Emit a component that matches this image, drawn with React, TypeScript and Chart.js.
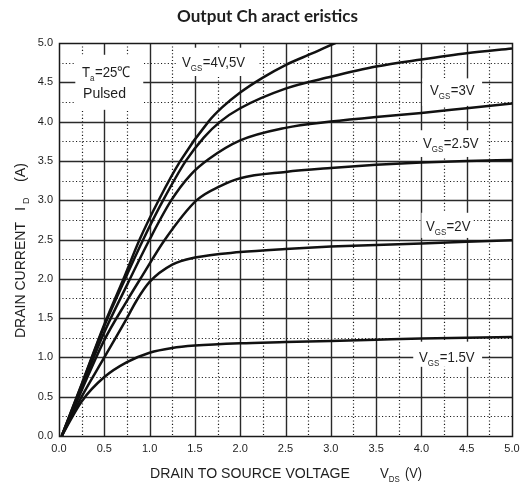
import React, { useEffect, useRef } from "react";
import { Chart, registerables } from "chart.js";

Chart.register(...registerables);

// ---- axis ranges & ticks ----
const X_MIN = 0;
const X_MAX = 5;
const Y_MIN = 0;
const Y_MAX = 5;
const MAJOR_STEP = 0.5;
const MINOR_STEP = 0.25;

// ---- curves: V_DS (V) vs I_D (A) ----
const VDS_5V = [0.03, 0.25, 0.5, 0.73, 0.89, 1.1, 1.34, 1.65, 1.8, 2.0, 2.25, 2.5, 2.8, 3.05, 3.3];
const ID_5V = [0, 0.66, 1.42, 2.05, 2.5, 3.0, 3.5, 4.0, 4.18, 4.37, 4.56, 4.72, 4.87, 5.0, 5.12];

const VDS_4V = [0.03, 0.25, 0.5, 0.75, 0.93, 1.15, 1.4, 1.6, 1.78, 2.0, 2.5, 3.0, 3.5, 4.0, 4.5, 5.0];
const ID_4V = [0, 0.65, 1.4, 2.05, 2.5, 3.0, 3.5, 3.8, 4.0, 4.17, 4.42, 4.57, 4.7, 4.79, 4.87, 4.93];

const VDS_3V = [0.03, 0.25, 0.5, 0.75, 1.0, 1.24, 1.45, 1.65, 2.0, 2.5, 3.0, 3.5, 4.0, 4.5, 5.0];
const ID_3V = [0, 0.62, 1.32, 1.92, 2.5, 3.0, 3.32, 3.52, 3.76, 3.92, 4.0, 4.06, 4.11, 4.17, 4.23];

const VDS_2_5V = [0.03, 0.25, 0.5, 0.75, 0.92, 1.17, 1.52, 1.78, 2.0, 2.5, 3.0, 3.5, 4.0, 4.5, 5.0];
const ID_2_5V = [0, 0.58, 1.22, 1.72, 2.04, 2.5, 3.0, 3.18, 3.28, 3.36, 3.41, 3.45, 3.48, 3.5, 3.51];

const VDS_2V = [0.03, 0.25, 0.5, 0.75, 0.86, 1.0, 1.25, 1.5, 2.0, 2.5, 3.0, 3.5, 4.0, 4.5, 5.0];
const ID_2V = [0, 0.5, 1.0, 1.5, 1.73, 1.96, 2.18, 2.27, 2.34, 2.38, 2.41, 2.43, 2.45, 2.47, 2.49];

const VDS_1_5V = [0.03, 0.25, 0.5, 0.75, 1.0, 1.25, 1.5, 2.0, 2.5, 3.0, 3.5, 4.0, 4.5, 5.0];
const ID_1_5V = [0, 0.44, 0.75, 0.94, 1.06, 1.12, 1.15, 1.18, 1.195, 1.21, 1.225, 1.24, 1.25, 1.26];

const SERIES = [
  { name: "VGS=5V", x: VDS_5V, y: ID_5V },
  { name: "VGS=4V", x: VDS_4V, y: ID_4V },
  { name: "VGS=3V", x: VDS_3V, y: ID_3V },
  { name: "VGS=2.5V", x: VDS_2_5V, y: ID_2_5V },
  { name: "VGS=2V", x: VDS_2V, y: ID_2V },
  { name: "VGS=1.5V", x: VDS_1_5V, y: ID_1_5V },
];

// ---- texts ----
const TITLE = "Output Ch aract eristics";
const X_TITLE = "DRAIN TO SOURCE VOLTAGE";
const Y_TITLE = "DRAIN CURRENT";

// curve labels: [main, sub, rest]
const LABEL_TEXTS = [
  ["V", "GS", "=4V,5V"],
  ["V", "GS", "=3V"],
  ["V", "GS", "=2.5V"],
  ["V", "GS", "=2V"],
  ["V", "GS", "=1.5V"],
];
// label anchors in data units: text-left, baseline, box x0, x1, y0, y1
const LABEL_POS = [
  [1.358, 4.695, 1.3, 2.2, 4.58, 4.94],
  [4.095, 4.338, 4.01, 4.67, 4.2, 4.55],
  [4.018, 3.664, 3.96, 4.71, 3.55, 3.89],
  [4.05, 2.608, 4.0, 4.56, 2.52, 2.84],
  [3.974, 0.941, 3.91, 4.67, 0.88, 1.2],
];
const COND_BOX = [0.18, 0.93, 4.15, 4.85];

const SANS = '"Liberation Sans", Arial, Helvetica, sans-serif';
const INK = "#1e1e1e";

function drawSub(ctx: CanvasRenderingContext2D, x: number, y: number, a: string, sub: string, b: string, size: number, subSize: number, sx: number) {
  ctx.save();
  ctx.translate(x, y);
  ctx.scale(sx, 1);
  ctx.font = `${size}px ${SANS}`;
  ctx.fillText(a, 0, 0);
  let w = ctx.measureText(a).width;
  ctx.font = `${subSize}px ${SANS}`;
  ctx.fillText(sub, w, 4);
  w += ctx.measureText(sub).width + 0.5;
  ctx.font = `${size}px ${SANS}`;
  ctx.fillText(b, w, 0);
  ctx.restore();
}

function fitText(ctx: CanvasRenderingContext2D, text: string, x: number, y: number, width: number) {
  const m = ctx.measureText(text).width;
  ctx.save();
  ctx.translate(x, y);
  ctx.scale(width / m, 1);
  ctx.fillText(text, 0, 0);
  ctx.restore();
}

const decorPlugin = {
  id: "decor",
  beforeDatasetsDraw(chart: any) {
    const { ctx, chartArea: a, scales } = chart;
    const xs = scales.x;
    const ys = scales.y;
    const px = (v: number) => Math.round(xs.getPixelForValue(v)) + 0.5;
    const py = (v: number) => Math.round(ys.getPixelForValue(v)) + 0.5;
    ctx.save();
    // minor dotted grid
    ctx.strokeStyle = "#1a1a1a";
    ctx.lineWidth = 1.2;
    ctx.setLineDash([1.1, 2.3]);
    for (let v = MINOR_STEP; v < X_MAX; v += MAJOR_STEP) {
      ctx.beginPath();
      ctx.moveTo(px(v), a.top);
      ctx.lineTo(px(v), a.bottom);
      ctx.stroke();
    }
    for (let v = MINOR_STEP; v < Y_MAX; v += MAJOR_STEP) {
      ctx.beginPath();
      ctx.moveTo(a.left, py(v));
      ctx.lineTo(a.right, py(v));
      ctx.stroke();
    }
    // major solid grid
    ctx.setLineDash([]);
    ctx.strokeStyle = "#2a2a2a";
    ctx.lineWidth = 1.4;
    for (let v = MAJOR_STEP; v < X_MAX - 0.01; v += MAJOR_STEP) {
      ctx.beginPath();
      ctx.moveTo(px(v), a.top);
      ctx.lineTo(px(v), a.bottom);
      ctx.stroke();
    }
    for (let v = MAJOR_STEP; v < Y_MAX - 0.01; v += MAJOR_STEP) {
      ctx.beginPath();
      ctx.moveTo(a.left, py(v));
      ctx.lineTo(a.right, py(v));
      ctx.stroke();
    }
    // frame
    ctx.strokeStyle = "#1a1a1a";
    ctx.lineWidth = 1.5;
    ctx.strokeRect(px(X_MIN), py(Y_MAX), px(X_MAX) - px(X_MIN), py(Y_MIN) - py(Y_MAX));

    // white label boxes
    ctx.fillStyle = "#fff";
    const box = (x0: number, x1: number, y0: number, y1: number) => {
      const l = xs.getPixelForValue(x0);
      const r = xs.getPixelForValue(x1);
      const t = ys.getPixelForValue(y1);
      const b = ys.getPixelForValue(y0);
      ctx.fillRect(l, t, r - l, b - t);
    };
    box(COND_BOX[0], COND_BOX[1], COND_BOX[2], COND_BOX[3]);
    LABEL_POS.forEach((p) => box(p[2], p[3], p[4], p[5]));

    // labels
    ctx.fillStyle = INK;
    ctx.textBaseline = "alphabetic";
    ctx.textAlign = "left";
    LABEL_TEXTS.forEach((t, i) => {
      const p = LABEL_POS[i];
      drawSub(ctx, xs.getPixelForValue(p[0]), ys.getPixelForValue(p[1]), t[0], t[1], t[2], 15, 9, 0.88);
    });
    drawSub(ctx, xs.getPixelForValue(0.254), ys.getPixelForValue(4.567), "T", "a", "=25℃", 15, 9, 0.88);
    ctx.font = `15px ${SANS}`;
    fitText(ctx, "Pulsed", xs.getPixelForValue(0.265), ys.getPixelForValue(4.3), 43);
    ctx.restore();
  },
  afterDraw(chart: any) {
    const { ctx, chartArea: a } = chart;
    ctx.save();
    ctx.fillStyle = INK;
    ctx.textBaseline = "alphabetic";
    ctx.textAlign = "left";
    // title
    ctx.font = `bold 17px Lato, "Open Sans", "Noto Sans", sans-serif`;
    fitText(ctx, TITLE, a.left + 118, a.top - 21, 181);
    // x axis title
    ctx.font = `15px ${SANS}`;
    fitText(ctx, X_TITLE, a.left + 91, a.bottom + 42, 200);
    drawSub(ctx, a.left + 321, a.bottom + 42, "V", "DS", "", 15, 9, 0.88);
    fitText(ctx, "(V)", a.left + 346, a.bottom + 42, 17);
    // y axis title (rotated)
    ctx.translate(25, a.bottom - 98);
    ctx.rotate(-Math.PI / 2);
    ctx.font = `15px ${SANS}`;
    fitText(ctx, Y_TITLE, 0, 0, 116);
    ctx.fillText("I", 127, 0);
    ctx.font = `9px ${SANS}`;
    ctx.fillText("D", 134, 4);
    ctx.font = `15px ${SANS}`;
    fitText(ctx, "(A)", 156, 0, 19);
    ctx.restore();
  },
};

export default function App() {
  const ref = useRef<HTMLCanvasElement | null>(null);
  useEffect(() => {
    document.body.style.margin = "0";
    const canvas = ref.current;
    if (!canvas) return;
    const chart = new Chart(canvas, {
      type: "scatter",
      data: {
        datasets: SERIES.map((s) => ({
          label: s.name,
          data: s.x.map((v, i) => ({ x: v, y: s.y[i] })),
          showLine: true,
          borderColor: "#111",
          backgroundColor: "#111",
          borderWidth: 2.5,
          pointRadius: 0,
          cubicInterpolationMode: "monotone" as const,
        })),
      },
      options: {
        responsive: false,
        animation: false,
        devicePixelRatio: 1,
        layout: { padding: { top: 43, right: 9, left: 0, bottom: 0 } },
        plugins: { legend: { display: false }, tooltip: { enabled: false }, title: { display: false } },
        scales: {
          x: {
            type: "linear",
            min: X_MIN,
            max: X_MAX,
            grid: { display: false, drawTicks: false },
            border: { display: false },
            ticks: {
              stepSize: MAJOR_STEP,
              padding: 6,
              maxRotation: 0,
              color: INK,
              font: { size: 11, family: SANS },
              callback: (v: any) => Number(v).toFixed(1),
            },
            afterFit: (s: any) => {
              s.height = 50;
              s.paddingLeft = 0;
              s.paddingRight = 0;
            },
          },
          y: {
            type: "linear",
            min: Y_MIN,
            max: Y_MAX,
            grid: { display: false, drawTicks: false },
            border: { display: false },
            ticks: {
              stepSize: MAJOR_STEP,
              padding: 6,
              color: INK,
              font: { size: 11, family: SANS },
              callback: (v: any) => Number(v).toFixed(1),
            },
            afterFit: (s: any) => {
              s.width = 59;
              s.paddingTop = 0;
              s.paddingBottom = 0;
            },
          },
        },
      },
      plugins: [decorPlugin],
    });
    return () => chart.destroy();
  }, []);
  return (
    <div style={{ width: 521, height: 486 }}>
      <canvas ref={ref} width={521} height={486} />
    </div>
  );
}
